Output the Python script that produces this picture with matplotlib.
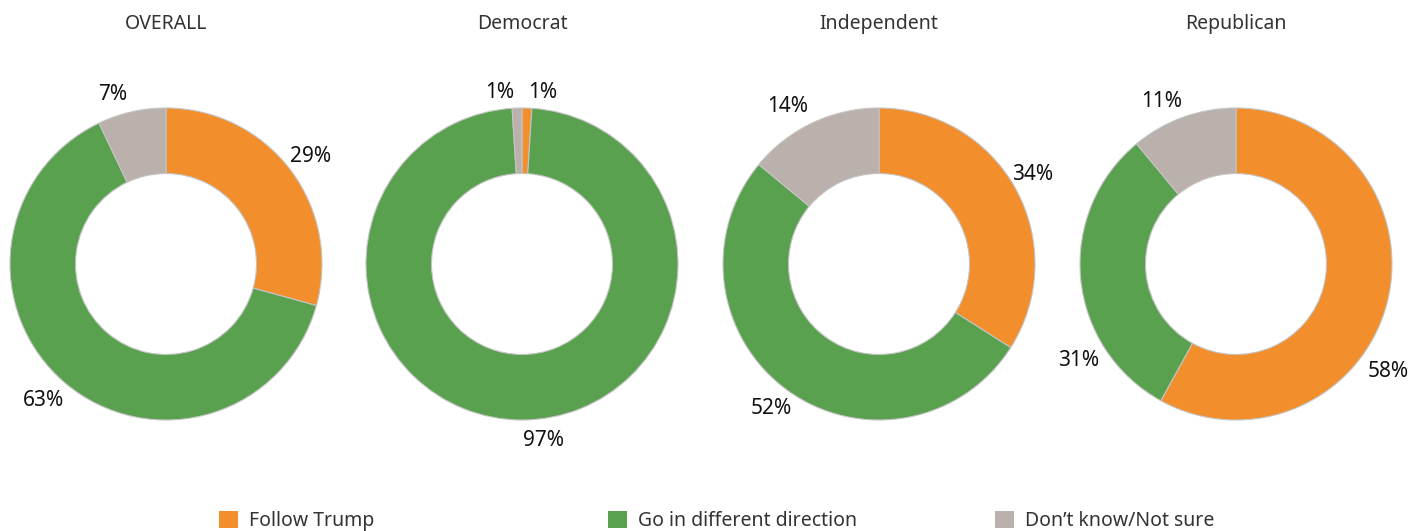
import matplotlib.pyplot as plt
from matplotlib.patches import Patch

# Share of respondents per group (clockwise from top)
groups = ['OVERALL', 'Democrat', 'Independent', 'Republican']
follow_trump = [29, 1, 34, 58]
different_direction = [63, 97, 52, 31]
not_sure = [7, 1, 14, 11]
series_names = ['Follow Trump', 'Go in different direction', 'Don\u2019t know/Not sure']
colors = ['#f28e2b', '#59a14f', '#bab0ac']

# label placement (pixels from donut centre, x right / y up), as in the original
label_offsets = [
    [(145, 108), (-123, -136), (-53, 169)],
    [(21, 172), (21, -176), (-22, 172)],
    [(154, 89), (-108, -145), (-91, 157)],
    [(152, -108), (-157, -96), (-74, 163)],
]

W, H = 1426, 531
plt.rcParams['font.family'] = ['Noto Sans', 'DejaVu Sans']

fig = plt.figure(figsize=(W / 100, H / 100), dpi=100)

# donut geometry in pixels
centers_x = [166, 522, 879, 1236]
center_y = 264
radius_px = 156
box_px = 400
lim = box_px / 2 / radius_px

for i, name in enumerate(groups):
    cx = centers_x[i]
    ax = fig.add_axes(((cx - box_px / 2) / W, (H - center_y - box_px / 2) / H,
                       box_px / W, box_px / H))
    values = [follow_trump[i], different_direction[i], not_sure[i]]
    wedges, texts = ax.pie(values, colors=colors, startangle=90, counterclock=False,
                           radius=1, labels=[f'{v}%' for v in values],
                           labeldistance=1.16,
                           wedgeprops=dict(width=0.42, edgecolor='#c4c4c4', linewidth=0.8),
                           textprops=dict(fontsize=15, color='#111111'))
    for t, (dx, dy) in zip(texts, label_offsets[i]):
        t.set_position((dx / radius_px, dy / radius_px))
        t.set_ha('center')
        t.set_va('center')
    ax.set_xlim(-lim, lim)
    ax.set_ylim(-lim, lim)
    ax.set_aspect('equal')
    ax.axis('off')
    fig.text(cx / W, 1 - 24 / H, name, ha='center', va='center',
             fontsize=14, color='#333333')

# legend: one entry each, spread across the bottom
legend_x = [201, 590, 977]
for name, col, lx in zip(series_names, colors, legend_x):
    fig.legend(handles=[Patch(facecolor=col, edgecolor='none')], labels=[name],
               loc='center left', bbox_to_anchor=(lx / W, 10 / H), frameon=False,
               fontsize=14, handlelength=1.0, handleheight=1.0, handletextpad=0.55,
               labelcolor='#333333')

fig.savefig('out.png', dpi=100)
